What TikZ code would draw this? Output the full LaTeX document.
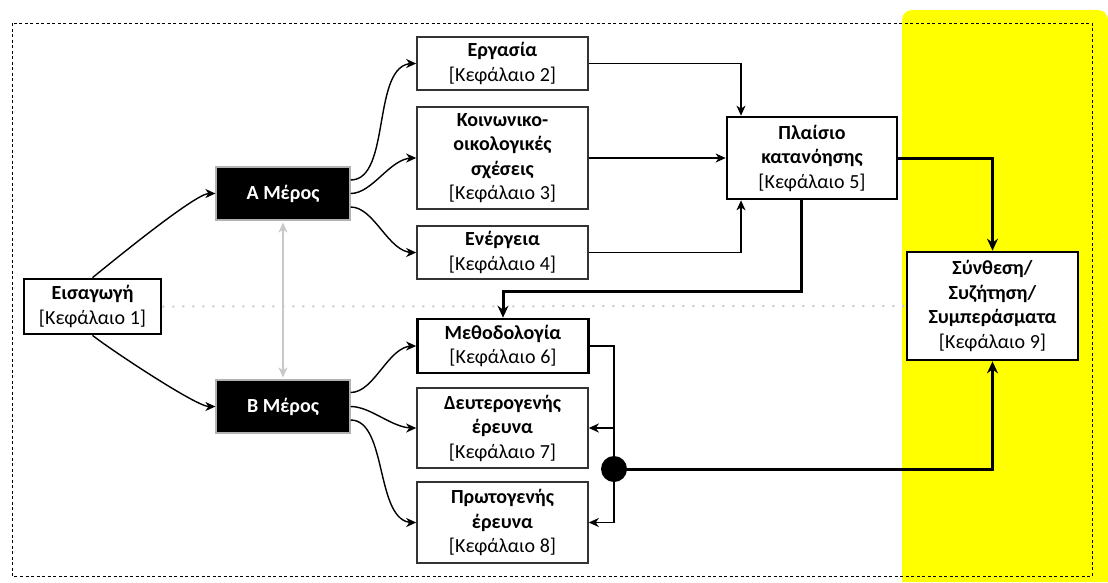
\documentclass[tikz,border=0pt]{standalone}
\usepackage{fontspec}
\setmainfont{Carlito}
\usetikzlibrary{arrows.meta}
\definecolor{yel}{HTML}{FFFF00}
\definecolor{lgray}{HTML}{C8C8C8}
\definecolor{dgray}{HTML}{333333}
\newcommand{\kef}[1]{\mbox{[Κεφάλαιο #1]}}
\begin{document}
\begin{tikzpicture}[x=1pt,y=-1pt,
  font=\fontsize{20}{24.5}\selectfont,
  box/.style={draw=dgray, line width=1.6pt, fill=white, align=center, inner sep=0pt, minimum width=171pt},
  boldbox/.style={box, draw=black, line width=2.7pt},
  part/.style={draw=lgray!70!gray, line width=1.2pt, fill=black, text=white, font=\fontsize{20}{24}\selectfont\bfseries, minimum width=134pt, minimum height=53pt, inner sep=0pt},
  conn/.style={line width=1.4pt, -{Stealth[length=10pt,width=9pt,inset=3pt]}},
  thickconn/.style={line width=3pt, -{Stealth[length=12pt,width=11pt,inset=4pt]}},
  curv/.style={conn, out=0, in=180, looseness=0.8},
]
\useasboundingbox (0,0) rectangle (1108,582);
\fill[yel] (1108,582) -- (902,582) [rounded corners=10pt] -- (902,10) -- (1108,10) [sharp corners] -- cycle;
\draw[dash pattern=on 3pt off 2.5pt, line width=1pt] (12,23) rectangle (1092,576);

\node[boldbox, minimum width=137pt, minimum height=55pt] (intro) at (92.5,306.5) {\textbf{Εισαγωγή}\\\kef{1}};
\node[boldbox, minimum width=171pt, minimum height=108pt] (synth) at (992.5,306) {\textbf{Σύνθεση/}\\\textbf{Συζήτηση/}\\\textbf{Συμπεράσματα}\\\kef{9}};
\draw[lgray, line width=2pt, dash pattern=on 2pt off 8pt] (intro.east) -- (synth.west);

\node[part] (amer) at (283,193.5) {Α Μέρος};
\node[part] (bmer) at (283,406.5) {Β Μέρος};
\node[box, minimum height=53pt] (erg) at (502.5,63.5) {\textbf{Εργασία}\\\kef{2}};
\node[box, minimum height=102pt] (koin) at (502.5,158) {\textbf{Κοινωνικο-}\\\textbf{οικολογικές}\\\textbf{σχέσεις}\\\kef{3}};
\node[box, minimum height=53pt] (energ) at (502.5,252.5) {\textbf{Ενέργεια}\\\kef{4}};
\node[boldbox, minimum height=54pt] (meth) at (503,346) {\textbf{Μεθοδολογία}\\\kef{6}};
\node[box, minimum height=80pt] (deut) at (502.5,428) {\textbf{Δευτερογενής}\\\textbf{έρευνα}\\\kef{7}};
\node[box, minimum height=81pt] (prot) at (502.5,522.5) {\textbf{Πρωτογενής}\\\textbf{έρευνα}\\\kef{8}};
\node[boldbox, minimum width=170pt, minimum height=82pt] (plais) at (812,158) {\textbf{Πλαίσιο}\\\textbf{κατανόησης}\\\kef{5}};
\node[circle, fill=black, minimum size=26pt, inner sep=0pt] (dot) at (614,469) {};

\draw[conn] (intro.north) to[out=39,in=180,looseness=0.35] (amer.west);
\draw[conn] (intro.south) to[out=-39,in=180,looseness=0.35] (bmer.west);
\draw[lgray, line width=1.3pt, {Stealth[length=10pt,width=9pt,inset=3pt]}-{Stealth[length=10pt,width=9pt,inset=3pt]}] ([yshift=-2pt]amer.south) -- ([yshift=2pt]bmer.north);

\draw[curv] ([yshift=13.5pt]amer.east) to ([xshift=-4pt]erg.west) -- (erg.west);
\draw[curv] (amer.east) to ([xshift=-4pt]koin.west) -- (koin.west);
\draw[curv] ([yshift=-13.5pt]amer.east) to ([xshift=-4pt]energ.west) -- (energ.west);
\draw[curv] ([yshift=14pt]bmer.east) to ([xshift=-4pt]meth.west) -- (meth.west);
\draw[curv] (bmer.east) to ([xshift=-4pt]deut.west) -- (deut.west);
\draw[curv] ([yshift=-13.5pt]bmer.east) to ([xshift=-4pt]prot.west) -- (prot.west);

\draw[conn] (erg.east) -| ([xshift=-71pt]plais.north);
\draw[conn] (koin.east) -- (plais.west);
\draw[conn] (energ.east) -| ([xshift=-71pt]plais.south);
\draw[thickconn] (plais.east) -| (synth.north);
\draw[thickconn] ([xshift=-11pt]plais.south) |- ([yshift=26pt]meth.north) -- (meth.north);

\draw[line width=1.4pt] (meth.east) -| (dot.center);
\draw[conn] (dot.center) |- (deut.east);
\draw[conn] (dot.center) |- (prot.east);
\draw[thickconn] (dot.center) -| (synth.south);
\end{tikzpicture}
\end{document}
